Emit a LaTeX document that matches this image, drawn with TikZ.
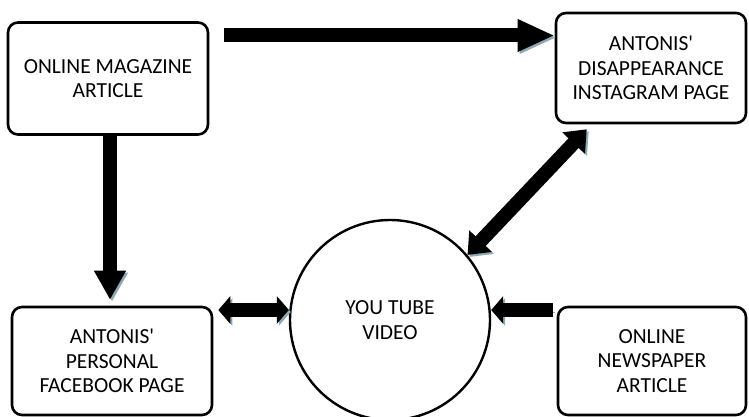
\documentclass[tikz,border=0pt]{standalone}
\usepackage{fontspec}
\setmainfont{Carlito}
\usetikzlibrary{arrows.meta,calc}
\definecolor{shade}{HTML}{8DA9B4}
\newcommand{\boxfont}{\fontsize{21.5}{24.5}\selectfont}

\begin{document}
\begin{tikzpicture}[line join=miter,x=1pt,y=-1pt,
  box/.style={draw,line width=2.6pt,rounded corners=10pt,align=center,font=\boxfont,inner sep=0pt},
  flow/.style={line width=14pt,preaction={draw=shade,transform canvas={shift={(2pt,-2pt)}}}}]
\useasboundingbox (0,0) rectangle (749,417);
% sources and pages
\node[box,minimum width=200pt,minimum height=112pt] (mag) at (108,78.5) {ONLINE MAGAZINE\\ARTICLE};
\node[box,minimum width=190pt,minimum height=110pt] (insta) at (651,68) {ANTONIS\textquotesingle\\DISAPPEARANCE\\INSTAGRAM PAGE};
\node[box,minimum width=200pt,minimum height=108pt] (fb) at (112,361) {ANTONIS\textquotesingle\\PERSONAL\\FACEBOOK PAGE};
\node[box,minimum width=188pt,minimum height=108pt] (news) at (652,361) {ONLINE\\NEWSPAPER\\ARTICLE};
\node[draw,circle,line width=2.4pt,minimum size=200pt,inner sep=0pt,align=center,font=\boxfont] (yt) at (390,320) {YOU TUBE\\VIDEO};
% connectors
\coordinate (magout) at (224,35.5);
\coordinate (ytl) at ([yshift=10pt]yt.west);
\coordinate (ytr) at ([yshift=10pt]yt.east);
\draw[flow,-{Triangle[length=37pt,width=30pt]}] (magout) -- (magout -| insta.west);
\draw[flow,-{Triangle[length=29pt,width=30pt]}] ([xshift=2pt]mag.south) -- ([xshift=2pt,yshift=6pt]mag.south |- fb.north);
\draw[flow,{Triangle[length=12pt,width=27pt]}-{Triangle[length=12pt,width=27pt]}] ([xshift=5pt]ytl -| fb.east) -- (ytl);
\draw[flow,-{Triangle[length=12pt,width=27pt]}] ([xshift=-4pt]ytr -| news.west) -- (ytr);
\draw[flow,{Triangle[length=19pt,width=30pt]}-{Triangle[length=19pt,width=30pt]}] (yt.40) -- ($(insta.south west)+(32,5)$);
\end{tikzpicture}
\end{document}
